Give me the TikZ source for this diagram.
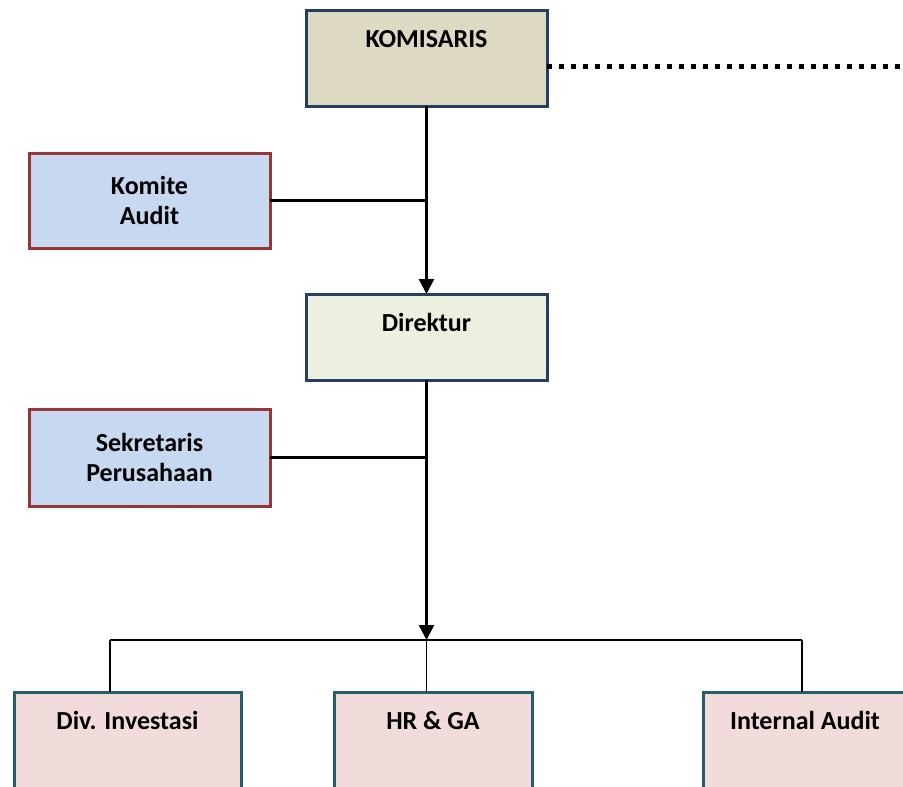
\documentclass[tikz,border=0pt]{standalone}
\usepackage{fontspec}
\setmainfont{Carlito}
\usepackage{tikz}
\usetikzlibrary{positioning,arrows.meta}
\usepackage{xcolor}
\definecolor{boardfill}{HTML}{DDD9C3}
\definecolor{dirfill}{HTML}{EBF1DE}
\definecolor{navyline}{HTML}{243F60}
\definecolor{sidefill}{HTML}{C6D9F1}
\definecolor{sideline}{HTML}{953735}
\definecolor{divfill}{HTML}{F2DCDB}
\definecolor{divline}{HTML}{245E6C}

\begin{document}
\begin{tikzpicture}[
    x=1pt, y=-1pt,
    every node/.style={font=\bfseries\fontsize{26}{30}\selectfont, inner sep=0pt, outer sep=0pt},
    headbox/.style={draw=navyline, line width=3pt, anchor=north west, minimum width=241pt, text height=37pt},
    sidebox/.style={draw=sideline, line width=3pt, fill=sidefill, anchor=north west, minimum width=241pt, align=center},
    unitbox/.style={draw=divline, line width=3pt, fill=divfill, anchor=north west, text height=37pt, text depth=100pt},
    link/.style={line width=2.2pt},
    drop/.style={line width=1.8pt},
    down/.style={line width=2.4pt, -{Triangle[width=15pt,length=15pt]}}
]
\useasboundingbox (0,0) rectangle (903,787);
\clip (0,0) rectangle (903,787);

% top
\node[headbox, fill=boardfill, text depth=59pt] (komisaris) at (306,10) {KOMISARIS};
\node[sidebox, minimum height=95pt] (komite) at (29,153) {Komite\\Audit};
\node[headbox, fill=dirfill, text depth=49pt] (direktur) at (306,294) {Direktur};
\node[sidebox, minimum height=97pt] (sekretaris) at (29,409) {Sekretaris\\Perusahaan};

% divisions
\node[unitbox, minimum width=227pt] (invest) at (14,692) {Div. Investasi};
\node[unitbox, minimum width=198pt] (hrga) at (334,692) {HR \& GA};
\node[unitbox, minimum width=204pt] (audit) at (703,692) {Internal Audit};

\coordinate (dotend) at (910,66);
\coordinate (hub) at (direktur.south |- 0,640);
\coordinate (busL) at (110,640);
\coordinate (busR) at (802,640);

\draw[down] (komisaris.south) -- (direktur.north);
\draw[link] (komite.east) -- (komite.east -| komisaris.south);
\draw[line width=5pt, dash pattern=on 5pt off 7pt] (komisaris.east |- dotend) -- (dotend);

\draw[down] (direktur.south) -- (hub);
\draw[link] (sekretaris.east) -- (sekretaris.east -| direktur.south);

\draw[link] (busL) -- (busR);
\draw[drop] (busL) -- (busL |- invest.north);
\draw[drop] (hub) -- (hub |- hrga.north);
\draw[drop] (busR) -- (busR |- audit.north);
\end{tikzpicture}
\end{document}
